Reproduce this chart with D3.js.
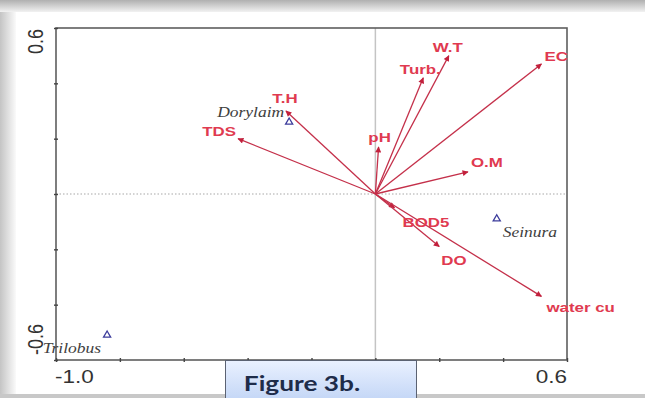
<!DOCTYPE html>
<html>
<head>
<meta charset="utf-8">
<script src="https://cdn.jsdelivr.net/npm/d3@7"></script>
<style>
  html, body { margin: 0; padding: 0; background: #fff; }
  svg { display: block; }
</style>
</head>
<body>
<svg id="chart" width="645" height="398"></svg>
<script>
// Environmental variables (biplot arrows): scores on ordination axes 1 and 2
const variables = ["W.T", "Turb.", "EC", "pH", "T.H", "TDS", "O.M", "BOD5", "DO", "water cu"];
const varAxis1 = [0.23, 0.15, 0.52, 0.01, -0.28, -0.43, 0.29, 0.06, 0.20, 0.52];
const varAxis2 = [0.50, 0.42, 0.47, 0.17, 0.30, 0.20, 0.08, -0.05, -0.19, -0.37];

// Nematode genera (species points)
const species = ["Dorylaim", "Seinura", "Trilobus"];
const spAxis1 = [-0.27, 0.38, -0.84];
const spAxis2 = [0.26, -0.09, -0.51];

// Axis ticks and the labels printed at the axis ends
const xTicks = [-1.0, -0.8, -0.6, -0.4, -0.2, 0.0, 0.2, 0.4, 0.6];
const yTicks = [-0.6, -0.4, -0.2, 0.0, 0.2, 0.4, 0.6];
const xEndLabels = ["-1.0", "0.6"];
const yEndLabels = ["-0.6", "0.6"];
const caption = "Figure 3b.";

// Label placement relative to each arrow tip / species point
const varLabelPlace = {
  "W.T":      { anchor: "middle", dx: -1, dy: -4 },
  "Turb.":    { anchor: "middle", dx: -3, dy: -4 },
  "EC":       { anchor: "start",  dx: 3,  dy: -3 },
  "pH":       { anchor: "middle", dx: 1,  dy: -5 },
  "T.H":      { anchor: "middle", dx: -1, dy: -8 },
  "TDS":      { anchor: "end",    dx: -2, dy: -3 },
  "O.M":      { anchor: "start",  dx: 3,  dy: -5 },
  "BOD5":     { anchor: "start",  dx: 8,  dy: 19 },
  "DO":       { anchor: "start",  dx: 2,  dy: 18 },
  "water cu": { anchor: "start",  dx: 5,  dy: 16 }
};
const spLabelPlace = {
  "Dorylaim": { anchor: "end",   dx: -5, dy: -5 },
  "Seinura":  { anchor: "start", dx: 6,  dy: 18 },
  "Trilobus": { anchor: "end",   dx: -6, dy: 18 }
};

const W = 645, H = 398;
const plot = { left: 56, right: 567, top: 28, bottom: 360 };
const SX = 1.25; // horizontal text stretch

const svg = d3.select("#chart");
const defs = svg.append("defs");

// page card with soft grey edges
const gTop = defs.append("linearGradient").attr("id", "gTop").attr("x1", 0).attr("y1", 0).attr("x2", 0).attr("y2", 1);
gTop.append("stop").attr("offset", 0).attr("stop-color", "#b0b0b0");
gTop.append("stop").attr("offset", 1).attr("stop-color", "#f2f2f2");
const gLeft = defs.append("linearGradient").attr("id", "gLeft").attr("x1", 0).attr("y1", 0).attr("x2", 1).attr("y2", 0);
gLeft.append("stop").attr("offset", 0).attr("stop-color", "#c4c4c4");
gLeft.append("stop").attr("offset", 1).attr("stop-color", "#fafafa");
const gCap = defs.append("linearGradient").attr("id", "gCap").attr("x1", 0).attr("y1", 0).attr("x2", 0).attr("y2", 1);
gCap.append("stop").attr("offset", 0).attr("stop-color", "#eaf1ff");
gCap.append("stop").attr("offset", 1).attr("stop-color", "#c3d6f6");

svg.append("rect").attr("width", W).attr("height", H).attr("fill", "#fff");
svg.append("rect").attr("x", 0).attr("y", 0).attr("width", 16).attr("height", H).attr("fill", "url(#gLeft)");
svg.append("rect").attr("x", 0).attr("y", 0).attr("width", W).attr("height", 12).attr("fill", "url(#gTop)");
svg.append("rect").attr("x", 0).attr("y", 394).attr("width", W).attr("height", 4).attr("fill", "#c8c8c8");

const x = d3.scaleLinear().domain([-1.0, 0.6]).range([plot.left, plot.right]);
const y = d3.scaleLinear().domain([-0.6, 0.6]).range([plot.bottom, plot.top]);

// zero reference lines
svg.append("line")
  .attr("x1", x(0)).attr("x2", x(0)).attr("y1", plot.top).attr("y2", plot.bottom)
  .attr("stroke", "#c4c4c4").attr("stroke-width", 1.5);
svg.append("line")
  .attr("x1", plot.left).attr("x2", plot.right).attr("y1", y(0)).attr("y2", y(0))
  .attr("stroke", "#a8a8a8").attr("stroke-width", 1.2).attr("stroke-dasharray", "1.5,2");

// frame
svg.append("rect")
  .attr("x", plot.left).attr("y", plot.top)
  .attr("width", plot.right - plot.left).attr("height", plot.bottom - plot.top)
  .attr("fill", "none").attr("stroke", "#5e5e5e").attr("stroke-width", 1.6);

// axes with tick marks crossing the frame
const bottomAxis = d3.axisBottom(x).tickValues(xTicks).tickSize(3).tickFormat("");
const leftAxis = d3.axisLeft(y).tickValues(yTicks).tickSize(3).tickFormat("");
const gb = svg.append("g").attr("transform", `translate(0,${plot.bottom})`).call(bottomAxis);
const gl = svg.append("g").attr("transform", `translate(${plot.left},0)`).call(leftAxis);
[gb, gl].forEach(g => {
  g.select(".domain").remove();
  g.selectAll(".tick line").attr("stroke", "#444").attr("stroke-width", 1.4);
});
gb.selectAll(".tick line").attr("y1", -2).attr("y2", 2);
gl.selectAll(".tick line").attr("x1", -2).attr("x2", 2);

// axis end labels
const tickFont = "'Liberation Sans', Arial, sans-serif";
svg.append("text").text(xEndLabels[0])
  .attr("transform", `translate(${plot.left - 1},383) scale(${SX},1)`)
  .attr("text-anchor", "start").attr("font-family", tickFont).attr("font-size", 18).attr("fill", "#333");
svg.append("text").text(xEndLabels[1])
  .attr("transform", `translate(${plot.right},383) scale(${SX},1)`)
  .attr("text-anchor", "end").attr("font-family", tickFont).attr("font-size", 18).attr("fill", "#333");
svg.append("text").text(yEndLabels[1])
  .attr("transform", `translate(43,${plot.top + 1}) scale(${SX},1) rotate(-90)`)
  .attr("text-anchor", "end").attr("font-family", tickFont).attr("font-size", 18).attr("fill", "#333");
svg.append("text").text(yEndLabels[0])
  .attr("transform", `translate(43,355) scale(${SX},1) rotate(-90)`)
  .attr("text-anchor", "start").attr("font-family", tickFont).attr("font-size", 18).attr("fill", "#333");

// arrowhead
defs.append("marker").attr("id", "head")
  .attr("viewBox", "0 0 10 10").attr("refX", 9).attr("refY", 5)
  .attr("markerWidth", 7).attr("markerHeight", 6).attr("markerUnits", "userSpaceOnUse")
  .attr("orient", "auto")
  .append("path").attr("d", "M0,0 L10,5 L0,10 Z").attr("fill", "#c2203c");

const vars = variables.map((name, i) => ({ name, a1: varAxis1[i], a2: varAxis2[i] }));
svg.append("g").selectAll("line").data(vars).join("line")
  .attr("x1", x(0)).attr("y1", y(0))
  .attr("x2", d => x(d.a1)).attr("y2", d => y(d.a2))
  .attr("stroke", "#c4304a").attr("stroke-width", 1.3)
  .attr("marker-end", "url(#head)");

svg.append("g").selectAll("text").data(vars).join("text")
  .text(d => d.name)
  .attr("transform", d => {
    const p = varLabelPlace[d.name];
    return `translate(${x(d.a1) + p.dx},${y(d.a2) + p.dy}) scale(${SX},1)`;
  })
  .attr("text-anchor", d => varLabelPlace[d.name].anchor)
  .attr("font-family", "'Liberation Sans', Arial, sans-serif")
  .attr("font-weight", "bold").attr("font-size", 13.5)
  .attr("fill", "#e03a50");

// species points
const sps = species.map((name, i) => ({ name, a1: spAxis1[i], a2: spAxis2[i] }));
const tri = d3.symbol().type(d3.symbolTriangle).size(22);
svg.append("g").selectAll("path").data(sps).join("path")
  .attr("d", tri)
  .attr("transform", d => `translate(${x(d.a1)},${y(d.a2)})`)
  .attr("fill", "none").attr("stroke", "#3c3c9c").attr("stroke-width", 1.3);

svg.append("g").selectAll("text").data(sps).join("text")
  .text(d => d.name)
  .attr("transform", d => {
    const p = spLabelPlace[d.name];
    return `translate(${x(d.a1) + p.dx},${y(d.a2) + p.dy}) scale(${SX},1)`;
  })
  .attr("text-anchor", d => spLabelPlace[d.name].anchor)
  .attr("font-family", "'Liberation Serif', 'Times New Roman', serif")
  .attr("font-style", "italic").attr("font-size", 14)
  .attr("fill", "#404040");

// caption box
svg.append("rect")
  .attr("x", 225.5).attr("y", 360.5).attr("width", 191).attr("height", 40)
  .attr("fill", "url(#gCap)").attr("stroke", "#5b6272").attr("stroke-width", 1);
svg.append("text").text(caption)
  .attr("transform", `translate(302,391) scale(${SX},1)`)
  .attr("text-anchor", "middle")
  .attr("font-family", "Lato, 'Open Sans', sans-serif")
  .attr("font-weight", "bold").attr("font-size", 21)
  .attr("fill", "#1e2c4a");
</script>
</body>
</html>
